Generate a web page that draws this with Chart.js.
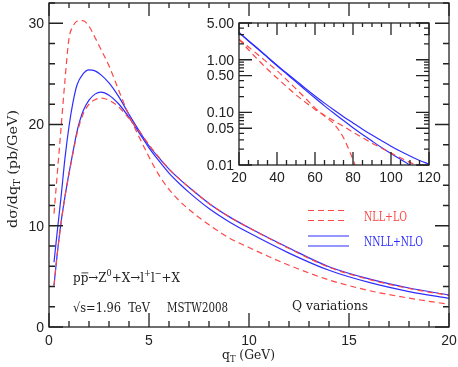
<!DOCTYPE html>
<html>
<head>
<meta charset="utf-8">
<script src="https://cdn.jsdelivr.net/npm/chart.js@4.4.1/dist/chart.umd.min.js"></script>
<style>
body { margin: 0; background: #fff; }
#wrap { position: relative; width: 458px; height: 367px; }
canvas { position: absolute; left: 0; top: 0; }
</style>
</head>
<body>
<div id="wrap">
<canvas id="mainChart" width="458" height="367"></canvas>
<canvas id="insetChart" width="458" height="367"></canvas>
</div>
<script>
// main panel, q_T in GeV
var qT = [0.25, 0.4, 0.6, 0.8, 1.0, 1.2, 1.4, 1.7, 2.0, 2.3, 2.6, 3.0, 3.5, 4, 4.5, 5, 5.5, 6, 6.5, 7, 8, 9, 10, 12, 14, 16, 18, 20];
var nllLoHigh = [11.2, 14.8, 19.6, 24.4, 28.5, 29.7, 30.2, 30.25, 29.7, 28.6, 27.4, 25.8, 23.3, 20.9, 18.8, 16.8, 15.0, 13.6, 12.5, 11.6, 10.1, 8.8, 7.85, 6.1, 4.65, 3.6, 2.85, 2.24];
var nllLoLow = [4.1, 7.0, 10.2, 12.9, 15.1, 17.2, 19.1, 21.0, 22.0, 22.45, 22.6, 22.4, 21.7, 20.6, 19.4, 18.0, 16.75, 15.6, 14.65, 13.8, 12.2, 10.9, 9.8, 7.75, 5.9, 4.7, 3.8, 3.12];
var nnllHigh = [6.4, 9.2, 12.8, 16.7, 19.8, 22.2, 23.9, 25.0, 25.4, 25.3, 24.9, 24.1, 22.7, 21.0, 19.4, 17.9, 16.7, 15.6, 14.65, 13.8, 12.2, 10.9, 9.8, 7.8, 5.95, 4.75, 3.85, 3.16];
var nnllLow = [4.1, 7.0, 10.3, 12.9, 15.2, 17.3, 19.3, 21.3, 22.4, 23.0, 23.2, 22.9, 22.0, 20.7, 19.2, 17.7, 16.4, 15.2, 14.2, 13.3, 11.7, 10.4, 9.3, 7.3, 5.6, 4.4, 3.5, 2.83];

// inset, log scale
var qTi = [20, 25, 30, 35, 40, 45, 50, 55, 60, 65, 70, 75, 80, 85, 90, 95, 100, 105, 110, 115, 120];
var nnllHighI = [3.3, 2.3, 1.62, 1.13, 0.79, 0.56, 0.40, 0.285, 0.205, 0.150, 0.111, 0.083, 0.063, 0.048, 0.037, 0.029, 0.0228, 0.0182, 0.0148, 0.0122, 0.0104];
var nnllLowI = [3.3, 2.28, 1.6, 1.11, 0.77, 0.54, 0.38, 0.265, 0.187, 0.133, 0.096, 0.070, 0.051, 0.038, 0.0285, 0.0215, 0.0165, 0.0128, 0.0099, 0.0078, 0.0062];
var nllLoLongI = [2.45, 1.55, 1.0, 0.66, 0.45, 0.31, 0.215, 0.155, 0.114, 0.088, 0.069, 0.054, 0.042, 0.033, 0.026, 0.021, 0.0168, 0.0137, 0.0112, 0.0095, 0.0081];
var qTiShort = [20, 25, 30, 35, 40, 45, 50, 55, 60, 65, 70, 75, 78, 80, 81.5];
var nllLoShortI = [2.45, 1.75, 1.25, 0.88, 0.62, 0.42, 0.28, 0.185, 0.122, 0.085, 0.060, 0.033, 0.019, 0.0128, 0.009];

var xTicksMain = [0, 5, 10, 15, 20];
var yTicksMain = [0, 10, 20, 30];
var xTicksInset = [20, 40, 60, 80, 100, 120];
var yTicksInset = [5, 1, 0.5, 0.1, 0.05, 0.01];

var RED = 'rgb(255,70,70)';
var BLUE = 'rgb(45,45,255)';
var INK = '#222';
var SERIF = '"DejaVu Serif"';

function pts(xs, ys) {
    return xs.map(function (x, i) { return {x: x, y: ys[i]}; });
}

function lineSet(data, color, dashed) {
    return {
        data: data,
        borderColor: color,
        borderWidth: 1.2,
        borderDash: dashed ? [6, 4] : [],
        pointRadius: 0,
        fill: false,
        cubicInterpolationMode: 'monotone'
    };
}

// text with sub/superscripts, squeezed to a given width
function richText(ctx, parts, x, y, width, size, color, rotate) {
    ctx.save();
    ctx.fillStyle = color;
    ctx.strokeStyle = color;
    ctx.textBaseline = 'alphabetic';
    var total = 0;
    parts.forEach(function (p) {
        var s = p.s ? size * 0.68 : size;
        ctx.font = s + 'px ' + SERIF;
        p.w = ctx.measureText(p.t).width;
        total += p.w;
    });
    ctx.translate(x, y);
    if (rotate) ctx.rotate(-Math.PI / 2);
    ctx.scale(width ? width / total : 1, 1);
    var cx = 0;
    parts.forEach(function (p) {
        var s = p.s ? size * 0.68 : size;
        var dy = p.s == 'sup' ? -size * 0.45 : (p.s == 'sub' ? size * 0.2 : 0);
        ctx.font = s + 'px ' + SERIF;
        ctx.fillText(p.t, cx, dy);
        if (p.over) {
            ctx.lineWidth = 0.9;
            ctx.beginPath();
            ctx.moveTo(cx + 1, -size * 0.7);
            ctx.lineTo(cx + p.w, -size * 0.7);
            ctx.stroke();
        }
        cx += p.w;
    });
    ctx.restore();
}

function tick(ctx, x1, y1, x2, y2) {
    ctx.moveTo(x1, y1);
    ctx.lineTo(x2, y2);
}

var mainFrame = {
    id: 'mainFrame',
    afterDraw: function (chart) {
        var ctx = chart.ctx;
        var a = chart.chartArea;
        var sx = chart.scales.x, sy = chart.scales.y;
        ctx.save();
        ctx.strokeStyle = INK;
        ctx.lineWidth = 1.3;
        ctx.strokeRect(a.left, a.top, a.right - a.left, a.bottom - a.top);
        ctx.beginPath();
        for (var v = 0; v <= 20; v++) {
            var px = sx.getPixelForValue(v);
            var big = v % 5 == 0;
            tick(ctx, px, a.bottom, px, a.bottom - (big ? 14 : 6));
            tick(ctx, px, a.top, px, a.top + (big ? 13 : 5));
        }
        for (var w = 0; w <= 32; w += 2) {
            var py = sy.getPixelForValue(w);
            var big2 = w % 10 == 0;
            tick(ctx, a.left, py, a.left + (big2 ? 14 : 6), py);
            tick(ctx, a.right, py, a.right - (big2 ? 14 : 6), py);
        }
        ctx.stroke();

        ctx.fillStyle = INK;
        ctx.font = '14px "Liberation Sans"';
        ctx.textAlign = 'center';
        ctx.textBaseline = 'top';
        xTicksMain.forEach(function (v) {
            ctx.fillText(String(v), sx.getPixelForValue(v), 334);
        });
        ctx.textAlign = 'right';
        ctx.textBaseline = 'middle';
        yTicksMain.forEach(function (v) {
            ctx.fillText(String(v), a.left - 5, sy.getPixelForValue(v) + 1);
        });
        ctx.restore();

        richText(ctx, [{t: 'q'}, {t: 'T', s: 'sub'}, {t: ' (GeV)'}], 222, 359, 53, 13, INK);
        richText(ctx, [{t: 'd\u03c3/dq'}, {t: 'T', s: 'sub'}, {t: ' (pb/GeV)'}], 17, 228, 118, 13, INK, true);
        richText(ctx, [{t: 'p'}, {t: 'p', over: true}, {t: '\u2192Z'}, {t: '0', s: 'sup'}, {t: '+X\u2192l'}, {t: '+', s: 'sup'}, {t: 'l'}, {t: '\u2212', s: 'sup'}, {t: '+X'}], 73, 282, 107, 13, INK);
        richText(ctx, [{t: '\u221as=1.96  TeV'}], 73, 312, 77, 13, INK);
        richText(ctx, [{t: 'MSTW2008'}], 167, 312, 61, 13, INK);
        richText(ctx, [{t: 'Q variations'}], 292, 310, 76, 13, INK);

        // legend
        ctx.save();
        ctx.lineWidth = 1.2;
        ctx.strokeStyle = RED;
        ctx.setLineDash([6, 4]);
        ctx.beginPath();
        tick(ctx, 308, 210.5, 347, 210.5);
        tick(ctx, 308, 220.5, 347, 220.5);
        ctx.stroke();
        ctx.setLineDash([]);
        ctx.strokeStyle = BLUE;
        ctx.beginPath();
        tick(ctx, 308, 236, 349, 236);
        tick(ctx, 308, 246, 349, 246);
        ctx.stroke();
        ctx.restore();
        richText(ctx, [{t: 'NLL+LO'}], 364, 221, 43, 12, RED);
        richText(ctx, [{t: 'NNLL+NLO'}], 364, 246, 59, 12, BLUE);
    }
};

var insetFrame = {
    id: 'insetFrame',
    afterDraw: function (chart) {
        var ctx = chart.ctx;
        var a = chart.chartArea;
        var sx = chart.scales.x, sy = chart.scales.y;
        ctx.save();
        ctx.strokeStyle = INK;
        ctx.lineWidth = 1.3;
        ctx.strokeRect(a.left, a.top, a.right - a.left, a.bottom - a.top);
        ctx.beginPath();
        for (var v = 20; v <= 120; v += 5) {
            var px = sx.getPixelForValue(v);
            var big = v % 20 == 0;
            tick(ctx, px, a.bottom, px, a.bottom - (big ? 13 : 5));
            tick(ctx, px, a.top, px, a.top + (big ? 12 : 4));
        }
        [0.01, 0.1, 1].forEach(function (d) {
            for (var m = 1; m <= 9; m++) {
                var val = m * d;
                if (val > 5.001) continue;
                var py = sy.getPixelForValue(val);
                var big2 = yTicksInset.some(function (t) { return Math.abs(t - val) < 1e-9; });
                tick(ctx, a.left, py, a.left + (big2 ? 13 : 5), py);
                tick(ctx, a.right, py, a.right - (big2 ? 13 : 5), py);
            }
        });
        ctx.stroke();

        ctx.fillStyle = INK;
        ctx.font = '14px "Liberation Sans"';
        ctx.textAlign = 'center';
        ctx.textBaseline = 'top';
        xTicksInset.forEach(function (v) {
            ctx.fillText(String(v), sx.getPixelForValue(v), 171);
        });
        ctx.textAlign = 'right';
        ctx.textBaseline = 'middle';
        yTicksInset.forEach(function (v) {
            ctx.fillText(v.toFixed(2), a.left - 5, sy.getPixelForValue(v) + 1);
        });
        ctx.restore();
    }
};

var mainChart = new Chart(document.getElementById('mainChart'), {
    type: 'line',
    data: {
        datasets: [
            lineSet(pts(qT, nllLoHigh), RED, true),
            lineSet(pts(qT, nllLoLow), RED, true),
            lineSet(pts(qT, nnllHigh), BLUE, false),
            lineSet(pts(qT, nnllLow), BLUE, false)
        ]
    },
    options: {
        responsive: false,
        animation: false,
        devicePixelRatio: 1,
        events: [],
        layout: {padding: {left: 49, right: 9, top: 3, bottom: 40}},
        plugins: {legend: {display: false}, tooltip: {enabled: false}},
        scales: {
            x: {type: 'linear', min: 0, max: 20, display: false},
            y: {type: 'linear', min: 0, max: 32, display: false}
        }
    },
    plugins: [mainFrame]
});

var insetChart = new Chart(document.getElementById('insetChart'), {
    type: 'line',
    data: {
        datasets: [
            lineSet(pts(qTiShort, nllLoShortI), RED, true),
            lineSet(pts(qTi, nllLoLongI), RED, true),
            lineSet(pts(qTi, nnllHighI), BLUE, false),
            lineSet(pts(qTi, nnllLowI), BLUE, false)
        ]
    },
    options: {
        responsive: false,
        animation: false,
        devicePixelRatio: 1,
        events: [],
        layout: {padding: {left: 239, right: 29, top: 23, bottom: 202}},
        plugins: {legend: {display: false}, tooltip: {enabled: false}},
        scales: {
            x: {type: 'linear', min: 20, max: 120, display: false},
            y: {type: 'logarithmic', min: 0.01, max: 5, display: false}
        }
    },
    plugins: [insetFrame]
});
</script>
</body>
</html>
